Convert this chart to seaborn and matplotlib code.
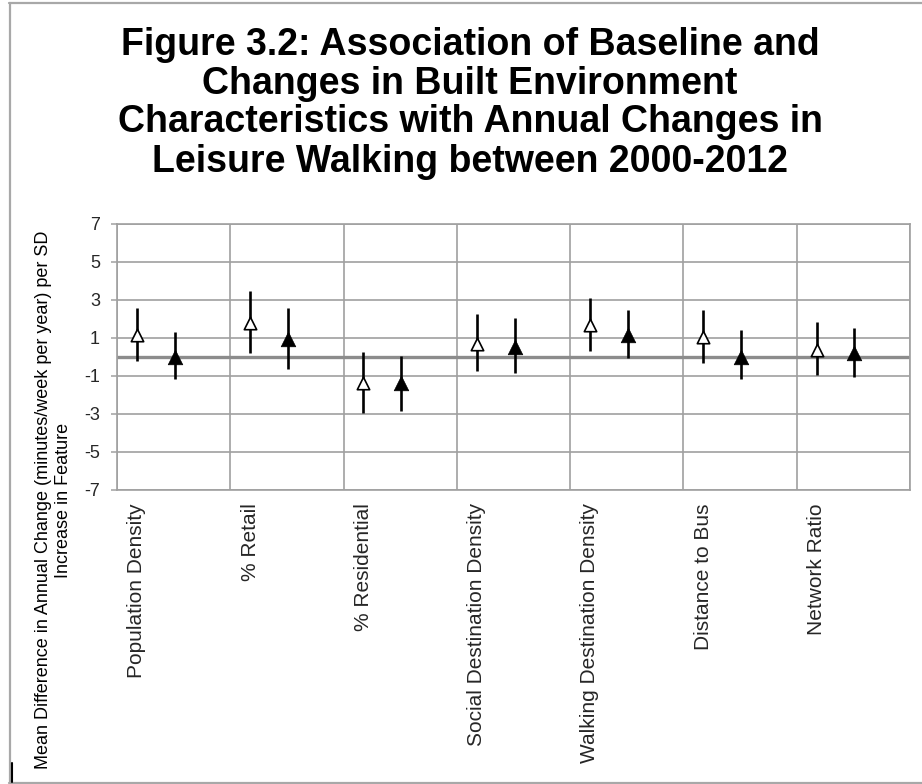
import matplotlib
matplotlib.use("Agg")
import matplotlib.pyplot as plt
import seaborn as sns
import pandas as pd
import numpy as np
from matplotlib.lines import Line2D

# ---------------- data ----------------
categories = ["Population Density", "% Retail", "% Residential",
              "Social Destination Density", "Walking Destination Density",
              "Distance to Bus", "Network Ratio"]
baseline_est = [1.16, 1.80, -1.35, 0.68, 1.68, 1.07, 0.37]
baseline_low = [-0.20, 0.20, -2.96, -0.74, 0.33, -0.30, -0.95]
baseline_high = [2.56, 3.50, 0.25, 2.26, 3.09, 2.47, 1.82]
change_est = [0.00, 0.93, -1.39, 0.54, 1.16, -0.02, 0.19]
change_low = [-1.16, -0.63, -2.83, -0.86, -0.07, -1.16, -1.04]
change_high = [1.30, 2.56, 0.05, 2.04, 2.47, 1.42, 1.54]
yticks = [-7, -5, -3, -1, 1, 3, 5, 7]
title_lines = ["Figure 3.2: Association of Baseline and",
               "Changes in Built Environment",
               "Characteristics with Annual Changes in",
               "Leisure Walking between 2000-2012"]
ylabel_text = ("Mean Difference in Annual Change (minutes/week per year) per SD\n"
               "Increase in Feature")

# ---------------- style ----------------
sns.set_theme(style="white")
plt.rcParams["font.family"] = ["Liberation Sans", "DejaVu Sans"]
plt.rcParams["axes.unicode_minus"] = False

W, H = 922, 784
fig = plt.figure(figsize=(W / 100, H / 100), dpi=100)
fig.patch.set_facecolor("white")

def fx(px):
    return px / W

def fy(py):
    return 1 - py / H

left, right, top, bottom = 117, 910, 224, 490
ax = fig.add_axes([fx(left), fy(bottom), fx(right - left), (bottom - top) / H])

n = len(categories)
idx = np.arange(n)
off_base, off_change = 0.175, 0.51

df_base = pd.DataFrame({"x": idx + off_base, "est": baseline_est,
                        "low": baseline_low, "high": baseline_high})
df_change = pd.DataFrame({"x": idx + off_change, "est": change_est,
                          "low": change_low, "high": change_high})

grid_col = "#a0a0a0"

# gridlines / zero line
ax.set_xlim(0, n)
ax.set_ylim(-7, 7)
ax.set_yticks(yticks)
ax.set_yticklabels([str(t) for t in yticks])
ax.set_xticks(np.arange(n + 1))
ax.set_xticklabels([])
ax.grid(True, color=grid_col, lw=1.2)
ax.set_axisbelow(True)
ax.axhline(0, color="#8c8c8c", lw=2.4, zorder=1.5)

# error bars
ax.vlines(df_base["x"], df_base["low"], df_base["high"], color="black", lw=1.9, zorder=2)
ax.vlines(df_change["x"], df_change["low"], df_change["high"], color="black", lw=1.9, zorder=2)

# markers
sns.scatterplot(data=df_base, x="x", y="est", marker="^", s=80, color="white",
                edgecolor="black", linewidth=1.2, ax=ax, zorder=3, legend=False)
sns.scatterplot(data=df_change, x="x", y="est", marker="^", s=110, color="black",
                edgecolor="black", linewidth=0.5, ax=ax, zorder=3, legend=False)

ax.set_xlabel("")
ax.set_ylabel("")

# category labels as minor ticks
ax.set_xticks(idx + off_base, minor=True)
ax.set_xticklabels(categories, minor=True, rotation=90, fontsize=15,
                   va="top", ha="center")
ax.tick_params(axis="x", which="both", length=0)
ax.tick_params(axis="x", which="minor", pad=9.5)
ax.tick_params(axis="y", which="major", length=4.2, width=1.1, color=grid_col,
               direction="out", pad=8, labelsize=13, left=True)

for sp in ax.spines.values():
    sp.set_color(grid_col)
    sp.set_linewidth(1.2)
    sp.set_visible(True)

# y label
fig.text(fx(53.5), fy(500), ylabel_text, rotation=90, ha="center", va="center",
         multialignment="center", fontsize=13, linespacing=1.16, color="black")

# title lines
baselines = [55, 93.5, 132.5, 171.5]
for line, b in zip(title_lines, baselines):
    fig.text(fx(470), fy(b), line, ha="center", va="baseline",
             fontsize=27, fontweight="bold", color="black")

# outer frame
frame_col = "#a8a8a8"
fig.add_artist(Line2D([fx(9), 1], [fy(3), fy(3)], transform=fig.transFigure,
                      color=frame_col, lw=1.6))
fig.add_artist(Line2D([fx(9.5), fx(9.5)], [fy(3), fy(783)], transform=fig.transFigure,
                      color=frame_col, lw=1.6))
fig.add_artist(Line2D([fx(9), 1], [fy(782.5), fy(782.5)], transform=fig.transFigure,
                      color=frame_col, lw=1.6))
fig.add_artist(Line2D([fx(11.8), fx(11.8)], [fy(763), fy(782)], transform=fig.transFigure,
                      color="black", lw=1.5))

fig.savefig("out.png", dpi=100, facecolor="white")
